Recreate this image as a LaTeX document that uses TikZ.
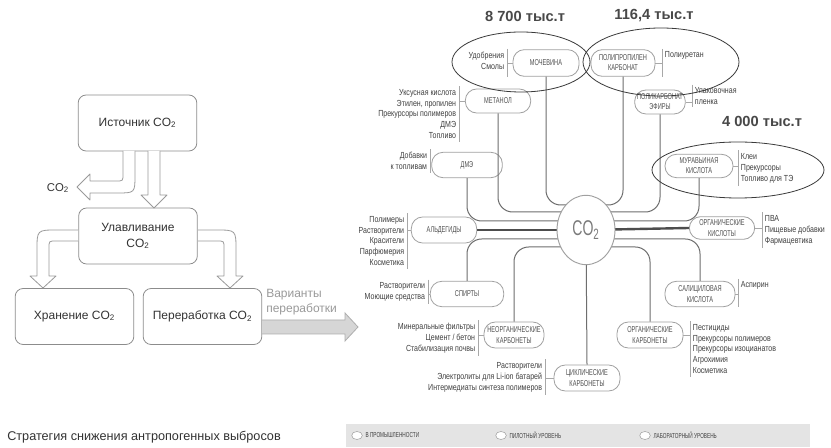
\documentclass[tikz,border=0pt]{standalone}
\usepackage{fontspec}
\setmainfont{Liberation Sans}
\newfontfamily\condfont{Liberation Sans}[FakeStretch=0.66]
\newfontfamily\narrowfont{Liberation Sans}[FakeStretch=0.8]
\usetikzlibrary{calc,shapes.geometric}
\definecolor{boxline}{HTML}{8C8C8C}
\definecolor{txtdark}{HTML}{333333}
\definecolor{arrowline}{HTML}{9A9A9A}
\definecolor{bigfill}{HTML}{D6D6D6}
\definecolor{bigline}{HTML}{AEAEAE}
\definecolor{graytxt}{HTML}{9A9A9A}
\definecolor{pillline}{HTML}{A0A0A0}
\definecolor{chemtxt}{HTML}{505050}
\definecolor{usetxt}{HTML}{404040}
\definecolor{brkc}{HTML}{A8A8A8}
\definecolor{linkc}{HTML}{6E6E6E}
\definecolor{thickc}{HTML}{4D4D4D}
\definecolor{ovalc}{HTML}{3A3A3A}
\definecolor{numc}{HTML}{484848}
\definecolor{co2txt}{HTML}{7A7A7A}
\definecolor{legbg}{HTML}{E4E4E4}

\begin{document}
\begin{tikzpicture}[x=0.75pt, y=-0.75pt, inner sep=1mm,
  flowbox/.style={draw=boxline, line width=0.6pt, rounded corners=6pt, minimum width=89pt, minimum height=42pt, align=center, text=txtdark, font=\fontsize{9}{12}\selectfont},
  hollow/.style={draw=arrowline, fill=white, line width=0.6pt, line join=round},
  chem/.style={draw=pillline, line width=0.6pt, fill=white, rounded corners=8.5pt, align=center, text=chemtxt, inner sep=1pt, font=\condfont\fontsize{6.4}{7.6}\selectfont},
  usesL/.style={anchor=east, align=right, text=usetxt, inner xsep=2pt, inner ysep=2pt, font=\narrowfont\fontsize{6.6}{8.2}\selectfont},
  usesR/.style={usesL, anchor=west, align=left},
  brk/.style={draw=brkc, line width=0.5pt},
  link/.style={draw=linkc, line width=0.75pt, rounded corners=11pt},
  main/.style={draw=thickc, line width=1.8pt},
  oval/.style={draw=ovalc, line width=0.6pt},
  amount/.style={text=numc, font=\bfseries\fontsize{11}{13}\selectfont},
  legdot/.style={ellipse, draw=pillline, fill=white, minimum width=8pt, minimum height=6pt, inner sep=0pt},
  legtxt/.style={anchor=west, text=usetxt, inner sep=2pt, font=\condfont\fontsize{5.4}{6}\selectfont}]
\fill[white] (0,0) rectangle (831,448);
\useasboundingbox (0,0) rectangle (831,448);

% left scheme:
\node[flowbox] (src) at (137.5,123) {Источник CO\textsubscript{2}};
\node[flowbox] (cap) at (138,236) {Улавливание\\CO\textsubscript{2}};
\node[flowbox] (store) at (74.5,316.5) {Хранение CO\textsubscript{2}};
\node[flowbox] (proc) at (202.5,316.5) {Переработка CO\textsubscript{2}};
\node[text=txtdark, font=\fontsize{8.5}{10}\selectfont] (vent) at (58,188) {CO\textsubscript{2}};
\draw[hollow] (148,151) -- (148,195) -- (141,195) -- (154,208) -- (167,195) -- (160,195) -- (160,151);
\draw[hollow] (135,151) -- (135,175) .. controls (135,193) .. (117,193) -- (90,193) -- (90,200) -- (77,187) -- (90,174) -- (90,181) -- (116,181) .. controls (123,181) .. (123,174) -- (123,151);
\draw[hollow] (78,230) -- (57,230) .. controls (37,230) .. (37,250) -- (37,276) -- (30,276) -- (43,288) -- (56,276) -- (49,276) -- (49,248) .. controls (49,241) .. (56,241) -- (78,241);
\draw[hollow] (198,230) -- (216,230) .. controls (236,230) .. (236,250) -- (236,276) -- (243,276) -- (230,288) -- (217,276) -- (224,276) -- (224,248) .. controls (224,241) .. (217,241) -- (198,241);
\filldraw[draw=bigline, fill=bigfill, line width=0.6pt] (262,320) -- (345,320) -- (345,313) -- (358,327) -- (345,341) -- (345,334) -- (262,334);
\node[anchor=west, align=left, text=graytxt, inner sep=0pt, font=\fontsize{9}{11.2}\selectfont] (ways) at (266,302) {Варианты\\переработки};
\node[anchor=west, text=txtdark, inner sep=0pt, font=\fontsize{9.5}{11}\selectfont] (title) at (7,437) {Стратегия снижения антропогенных выбросов};

% products of CO2:
\node[chem, minimum width=49.5pt, minimum height=20pt] (moch) at (546,63) {МОЧЕВИНА};
\node[chem, minimum width=48pt, minimum height=20pt] (ppc) at (623,63) {ПОЛИПРОПИЛЕН\\КАРБОНАТ};
\node[chem, minimum width=38pt, minimum height=18pt] (pce) at (660,102) {ПОЛИКАРБОНАТ\\ЭФИРЫ};
\node[chem, minimum width=49pt, minimum height=18pt] (meth) at (498,101) {МЕТАНОЛ};
\node[chem, minimum width=53pt, minimum height=19pt] (dme) at (467,165) {ДМЭ};
\node[chem, minimum width=49pt, minimum height=19.5pt] (ald) at (444,230) {АЛЬДЕГИДЫ};
\node[chem, minimum width=55pt, minimum height=19pt] (alc) at (467,294) {СПИРТЫ};
\node[chem, minimum width=45pt, minimum height=19.5pt] (inorg) at (514,335) {НЕОРГАНИЧЕСКИЕ\\КАРБОНЕТЫ};
\node[chem, minimum width=49.5pt, minimum height=19.5pt] (cyc) at (587,378) {ЦИКЛИЧЕСКИЕ\\КАРБОНЕТЫ};
\node[chem, minimum width=49.5pt, minimum height=19.5pt] (orgc) at (650,335) {ОРГАНИЧЕСКИЕ\\КАРБОНЕТЫ};
\node[chem, minimum width=52.5pt, minimum height=19pt] (sal) at (700,294) {САЛИЦИЛОВАЯ\\КИСЛОТА};
\node[chem, minimum width=49pt, minimum height=17pt] (orga) at (722,228) {ОРГАНИЧЕСКИЕ\\КИСЛОТЫ};
\node[chem, minimum width=51pt, minimum height=17.5pt] (form) at (699,166) {МУРАВЬИНАЯ\\КИСЛОТА};

% links to the centre:
\coordinate (c) at (586,230);
\draw[link] (moch.south) |- ($(c)+(0,-25)$);
\draw[link] (meth.south) |- ($(c)+(0,-18)$);
\draw[link] (dme.south) |- ($(c)+(0,-9)$);
\draw[link] (alc.north) |- ($(c)+(0,9)$);
\draw[link] (inorg.north) |- ($(c)+(0,17)$);
\draw[link] (cyc.north) -- (c);
\draw[link] (orgc.north) |- ($(c)+(0,17)$);
\draw[link] (sal.north) |- ($(c)+(0,9)$);
\draw[link] (form.south) |- ($(c)+(0,-9)$);
\draw[link] (pce.south) |- ($(c)+(0,-18)$);
\draw[link] (ppc.south) |- ($(c)+(0,-25)$);
\draw[main] (ald.east) -- (c);
\draw[main] (orga.west) -- (c);
\node[ellipse, draw=pillline, fill=white, line width=0.7pt, minimum width=43.5pt, minimum height=52pt, inner sep=0pt, text=co2txt, font=\condfont\fontsize{16}{16}\selectfont] (co2) at (c) {CO\textsubscript{2}};

% uses:
\node[usesL, anchor=north east] (mochL) at (507,49) {Удобрения\\Смолы};
\node[usesL] (methL) at (459,114) {Уксусная кислота\\Этилен, пропилен\\Прекурсоры полимеров\\ДМЭ\\Топливо};
\node[usesL] (dmeL) at (430,161) {Добавки\\к топливам};
\node[usesL] (aldL) at (407,241) {Полимеры\\Растворители\\Красители\\Парфюмерия\\Косметика};
\node[usesL] (alcL) at (428,292) {Растворители\\Моющие средства};
\node[usesL] (inorgL) at (478,338) {Минеральные фильтры\\Цемент / бетон\\Стабилизация почвы};
\node[usesL] (cycL) at (545,377) {Растворители\\Электролиты для Li-ion батарей\\Интермедиаты синтеза полимеров};
\node[usesR, anchor=north west] (ppcR) at (662,49) {Полиуретан};
\node[usesR] (pceR) at (692,96) {Упаковочная\\пленка};
\node[usesR] (formR) at (738,168) {Клеи\\Прекурсоры\\Топливо для ТЭ};
\node[usesR] (orgaR) at (762,230) {ПВА\\Пищевые добавки\\Фармацевтика};
\node[usesR, anchor=north west] (salR) at (738,279) {Аспирин};
\node[usesR] (orgcR) at (690,349) {Пестициды\\Прекурсоры полимеров\\Прекурсоры изоцианатов\\Агрохимия\\Косметика};
\draw[brk] (mochL.north east) -- (mochL.east |- moch.south);
\draw[brk] (mochL.east |- moch.west) -- (moch.west);
\foreach \u/\n in {methL/meth, dmeL/dme, aldL/ald, alcL/alc, inorgL/inorg, cycL/cyc} {
  \draw[brk] (\u.north east) -- (\u.south east);
  \draw[brk] (\u.east |- \n.west) -- (\n.west);
}
\draw[brk] (ppcR.north west) -- (ppcR.west |- ppc.south);
\draw[brk] (ppcR.west |- ppc.east) -- (ppc.east);
\draw[brk] (salR.north west) -- (salR.west |- sal.south);
\draw[brk] (salR.west |- sal.east) -- (sal.east);
\foreach \u/\n in {pceR/pce, formR/form, orgaR/orga, orgcR/orgc} {
  \draw[brk] (\u.north west) -- (\u.south west);
  \draw[brk] (\u.west |- \n.east) -- (\n.east);
}

% groups and amounts:
\draw[oval] (521,62) ellipse [x radius=51.75pt, y radius=22.5pt];
\draw[oval] (661,62) ellipse [x radius=58.5pt, y radius=25.5pt];
\draw[oval] (738,170) ellipse [x radius=64.5pt, y radius=21pt];
\node[amount] (amt1) at (525,16) {8 700 тыс.т};
\node[amount] (amt2) at (654,16) {116,4 тыс.т};
\node[amount] (amt3) at (762,121) {4 000 тыс.т};

% legend:
\fill[legbg] (346,424) rectangle (810,447);
\node[legdot] (dot1) at (357,435.5) {};
\node[legdot] (dot2) at (501,435.5) {};
\node[legdot] (dot3) at (645,435.5) {};
\node[legtxt] (lg1) at (dot1.east) {В ПРОМЫШЛЕННОСТИ};
\node[legtxt] (lg2) at (dot2.east) {ПИЛОТНЫЙ УРОВЕНЬ};
\node[legtxt] (lg3) at (dot3.east) {ЛАБОРАТОРНЫЙ УРОВЕНЬ};
\end{tikzpicture}
\end{document}
